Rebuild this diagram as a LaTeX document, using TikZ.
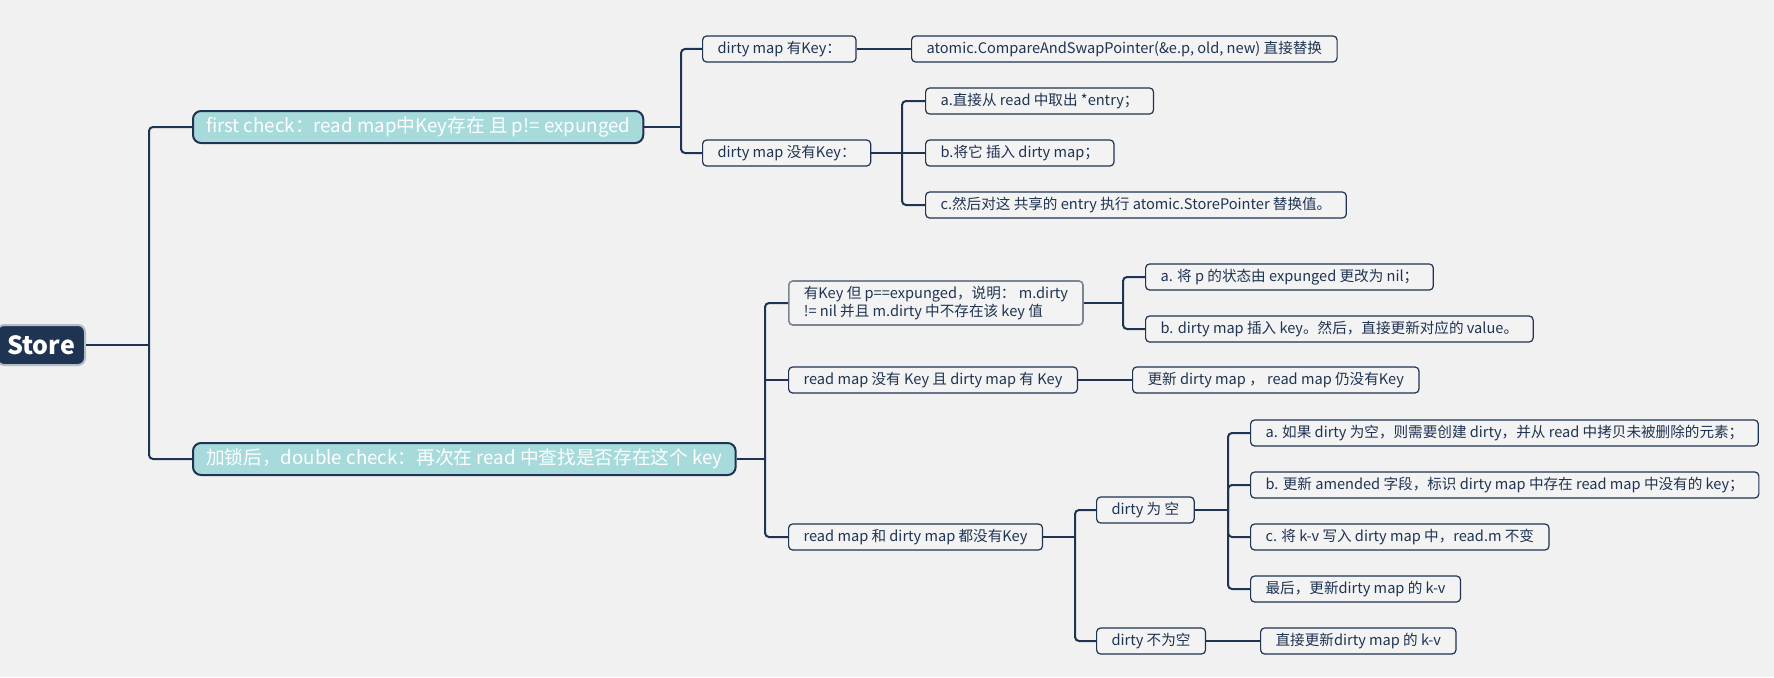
\documentclass[tikz,border=0pt]{standalone}
\usepackage{fontspec}
\setmainfont{Noto Sans CJK SC}
\usetikzlibrary{calc}
\definecolor{navy}{HTML}{1F3352}
\definecolor{bgcol}{HTML}{F1F1F1}
\definecolor{leaffill}{HTML}{F3F3F3}
\definecolor{branchfill}{HTML}{A6DADB}
\definecolor{rootedge}{HTML}{B4BEC8}
\definecolor{seledge}{HTML}{7B8594}
\begin{document}
\begin{tikzpicture}[x=1pt,y=-1pt,
    root/.style={draw=rootedge,line width=2pt,fill=navy,rounded corners=7pt,text=white,font=\bfseries\fontsize{25}{28}\selectfont,minimum height=40pt,inner xsep=10pt,anchor=east},
    branch/.style={draw=navy,line width=2pt,fill=branchfill,rounded corners=8pt,text=white,font=\fontsize{18.7}{22}\selectfont,minimum height=32pt,inner xsep=13pt,anchor=west},
    leaf/.style={draw=navy,line width=1.2pt,fill=leaffill,rounded corners=4pt,text=navy,font=\fontsize{14.6}{18}\selectfont,minimum height=26pt,inner xsep=15pt,anchor=west},
    conn/.style={draw=navy,line width=2pt,rounded corners=4pt}]
    \fill[bgcol] (0,0) rectangle (1774,677);
    \useasboundingbox (0,0) rectangle (1774,677);
    % root and main branches
    \node[root] (store) at (86,345) {Store};
    \node[branch] (fc) at (192,127) {first check：read map中Key存在 且 p!= expunged};
    \node[branch] (dc) at (192,459) {加锁后，double check：再次在 read 中查找是否存在这个 key};
    % first check
    \node[leaf] (fcHas) at (702,49) {dirty map 有Key：};
    \node[leaf] (fcCas) at (911,49) {atomic.CompareAndSwapPointer(\&e.p, old, new) 直接替换};
    \node[leaf] (fcNo) at (702,153) {dirty map 没有Key：};
    \node[leaf] (fcA) at (925,101) {a.直接从 read 中取出 *entry；};
    \node[leaf] (fcB) at (925,153) {b.将它 插入 dirty map；};
    \node[leaf] (fcC) at (925,205) {c.然后对这 共享的 entry 执行 atomic.StorePointer 替换值。};
    % double check
    \node[leaf,draw=seledge,line width=1.6pt,align=left,minimum height=44pt] (dcExp) at (788,303) {有Key 但 p==expunged，说明： m.dirty\\!= nil 并且 m.dirty 中不存在该 key 值};
    \node[leaf] (expA) at (1145,277) {a. 将 p 的状态由 expunged 更改为 nil；};
    \node[leaf] (expB) at (1145,329) {b. dirty map 插入 key。然后，直接更新对应的 value。};
    \node[leaf] (dcDirty) at (788,380) {read map 没有 Key 且 dirty map 有 Key};
    \node[leaf] (dirtyUpd) at (1132,380) {更新 dirty map ， read map 仍没有Key};
    \node[leaf] (dcNone) at (788,537) {read map 和 dirty map 都没有Key};
    \node[leaf] (empty) at (1096,510) {dirty 为 空};
    \node[leaf] (nonEmpty) at (1096,641) {dirty 不为空};
    \node[leaf] (emptyA) at (1250,433) {a. 如果 dirty 为空，则需要创建 dirty，并从 read 中拷贝未被删除的元素；};
    \node[leaf] (emptyB) at (1250,485) {b. 更新 amended 字段，标识 dirty map 中存在 read map 中没有的 key；};
    \node[leaf] (emptyC) at (1250,537) {c. 将 k-v 写入 dirty map 中，read.m 不变};
    \node[leaf] (emptyD) at (1250,589) {最后，更新dirty map 的 k-v};
    \node[leaf] (nonEmptyA) at (1260,641) {直接更新dirty map 的 k-v};
    % junctions
    \coordinate (storeJ) at (149,345);
    \coordinate (fcJ) at (681,127);
    \coordinate (fcNoJ) at (902,153);
    \coordinate (dcJ) at (765,459);
    \coordinate (dcExpJ) at (1123,303);
    \coordinate (dcNoneJ) at (1075,537);
    \coordinate (emptyJ) at (1228,510);
    % connectors
    \draw[conn] (store.east) -- (storeJ);
    \draw[conn] (fc.west) -| (storeJ);
    \draw[conn] (dc.west) -| (storeJ);
    \draw[conn] (fc.east) -- (fcJ);
    \draw[conn] (fcHas.west) -| (fcJ);
    \draw[conn] (fcNo.west) -| (fcJ);
    \draw[conn] (fcHas.east) -- (fcCas.west);
    \draw[conn] (fcNo.east) -- (fcNoJ);
    \draw[conn] (fcA.west) -| (fcNoJ);
    \draw[conn] (fcB.west) -- (fcNoJ);
    \draw[conn] (fcC.west) -| (fcNoJ);
    \draw[conn] (dc.east) -- (dcJ);
    \draw[conn] (dcExp.west) -| (dcJ);
    \draw[conn] (dcDirty.west) -- (dcDirty.west -| dcJ);
    \draw[conn] (dcNone.west) -| (dcJ);
    \draw[conn] (dcExp.east) -- (dcExpJ);
    \draw[conn] (expA.west) -| (dcExpJ);
    \draw[conn] (expB.west) -| (dcExpJ);
    \draw[conn] (dcDirty.east) -- (dirtyUpd.west);
    \draw[conn] (dcNone.east) -- (dcNoneJ);
    \draw[conn] (empty.west) -| (dcNoneJ);
    \draw[conn] (nonEmpty.west) -| (dcNoneJ);
    \draw[conn] (empty.east) -- (emptyJ);
    \draw[conn] (emptyA.west) -| (emptyJ);
    \draw[conn] (emptyB.west) -| (emptyJ);
    \draw[conn] (emptyC.west) -| (emptyJ);
    \draw[conn] (emptyD.west) -| (emptyJ);
    \draw[conn] (nonEmpty.east) -- (nonEmptyA.west);
\end{tikzpicture}
\end{document}
